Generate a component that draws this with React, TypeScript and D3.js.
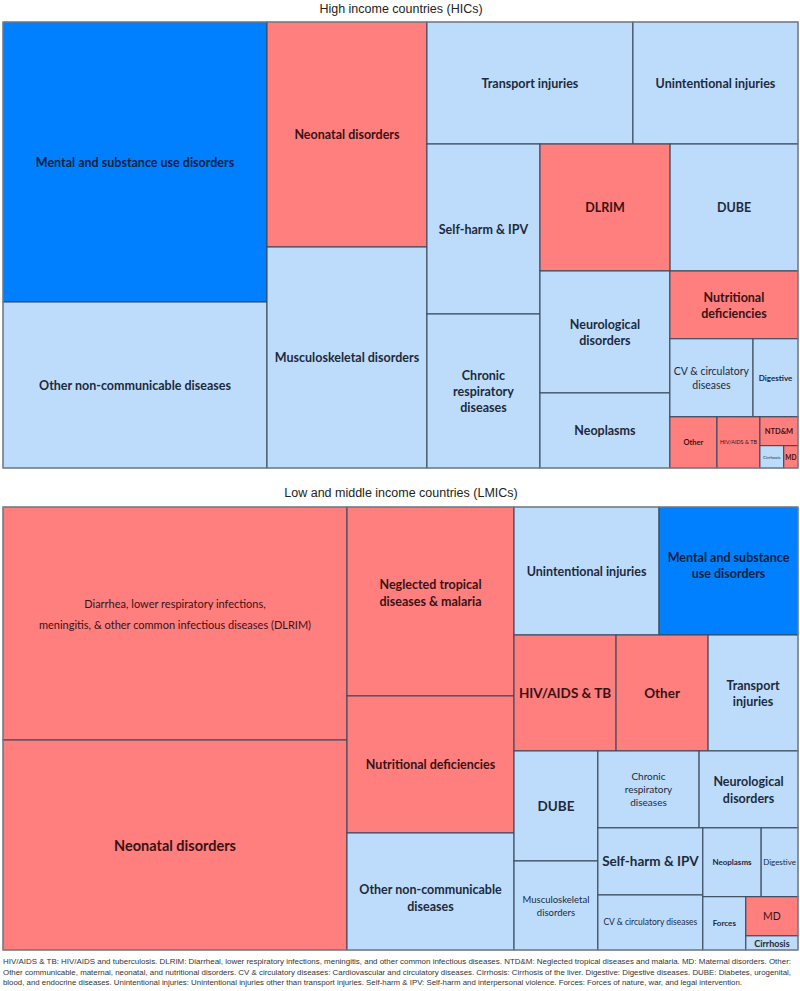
import React from "react";
import * as d3 from "d3";

// ---- data: share of burden per cause (read from tile areas, %) ----
const hicCauses = [
  "mental", "otherNcd", "neonatal", "musculo", "transport", "unintentional",
  "selfHarm", "chronicResp", "dlrim", "dube", "neuro", "neoplasms",
  "nutritional", "cv", "digestive", "other", "hiv", "ntdm", "cirrhosis", "md",
];
const hicValues = [
  20.85, 12.36, 10.15, 9.97, 7.09, 5.68,
  5.42, 4.91, 4.66, 4.58, 4.47, 2.75,
  2.45, 1.83, 0.99, 0.68, 0.62, 0.31, 0.15, 0.09,
];

const lmicCauses = [
  "dlrim", "neonatal", "ntdm", "nutritional", "otherNcd", "unintentional",
  "mental", "hiv", "other", "transport", "dube", "musculo",
  "chronicResp", "neuro", "selfHarm", "cv", "neoplasms", "digestive",
  "forces", "md", "cirrhosis",
];
const lmicValues = [
  22.76, 20.51, 8.96, 6.5, 5.55, 5.27,
  5.05, 3.36, 3.03, 2.96, 2.62, 2.12,
  2.21, 2.16, 2.0, 1.64, 1.14, 0.72,
  0.65, 0.58, 0.21,
];

// cause group: C = communicable/maternal/neonatal/nutritional, N = NCD & injuries, M = mental
const causeGroups: Record<string, string> = {
  mental: "M", otherNcd: "N", neonatal: "C", musculo: "N", transport: "N",
  unintentional: "N", selfHarm: "N", chronicResp: "N", dlrim: "C", dube: "N",
  neuro: "N", neoplasms: "N", nutritional: "C", cv: "N", digestive: "N",
  other: "C", hiv: "C", ntdm: "C", cirrhosis: "N", md: "C", forces: "N",
};

// how the tiles nest: "x" splits left-to-right, "y" splits top-to-bottom
const hicTiling: any = ["x",
  ["y", "mental", "otherNcd"],
  ["y", "neonatal", "musculo"],
  ["y",
    ["x", "transport", "unintentional"],
    ["x",
      ["y", "selfHarm", "chronicResp"],
      ["y",
        ["x", "dlrim", "dube"],
        ["x",
          ["y", "neuro", "neoplasms"],
          ["y", "nutritional",
            ["x", "cv", "digestive"],
            ["x", "other", "hiv", ["y", "ntdm", ["x", "cirrhosis", "md"]]]]]]]]];

const lmicTiling: any = ["x",
  ["y", "dlrim", "neonatal"],
  ["y", "ntdm", "nutritional", "otherNcd"],
  ["y",
    ["x", "unintentional", "mental"],
    ["x", "hiv", "other", "transport"],
    ["x",
      ["y", "dube", "musculo"],
      ["y",
        ["x", "chronicResp", "neuro"],
        ["x",
          ["y", "selfHarm", "cv"],
          ["y",
            ["x", "neoplasms", "digestive"],
            ["x", "forces", ["y", "md", "cirrhosis"]]]]]]]];

// ---- labels ----
type Lab = { lines: string[]; size: number; bold?: boolean; dy?: number; lh?: number };

const hicLabels: Record<string, Lab> = {
  mental: { lines: ["Mental and substance use disorders"], size: 12.5, bold: true },
  otherNcd: { lines: ["Other non-communicable diseases"], size: 12.5, bold: true },
  neonatal: { lines: ["Neonatal disorders"], size: 12.5, bold: true },
  musculo: { lines: ["Musculoskeletal disorders"], size: 12.5, bold: true },
  transport: { lines: ["Transport injuries"], size: 12.5, bold: true },
  unintentional: { lines: ["Unintentional injuries"], size: 12.5, bold: true },
  selfHarm: { lines: ["Self-harm & IPV"], size: 12.5, bold: true },
  chronicResp: { lines: ["Chronic", "respiratory", "diseases"], size: 12.5, bold: true },
  dlrim: { lines: ["DLRIM"], size: 12.5, bold: true },
  dube: { lines: ["DUBE"], size: 12.5, bold: true },
  neuro: { lines: ["Neurological", "disorders"], size: 12.5, bold: true },
  neoplasms: { lines: ["Neoplasms"], size: 12.5, bold: true },
  nutritional: { lines: ["Nutritional", "deficiencies"], size: 12.5, bold: true },
  cv: { lines: ["CV & circulatory", "diseases"], size: 10.5 },
  digestive: { lines: ["Digestive"], size: 8, bold: true },
  other: { lines: ["Other"], size: 7.5, bold: true },
  hiv: { lines: ["HIV/AIDS & TB"], size: 5.5 },
  ntdm: { lines: ["NTD&M"], size: 7.5, bold: true },
  cirrhosis: { lines: ["Cirrhosis"], size: 4.5 },
  md: { lines: ["MD"], size: 6.5, bold: true },
};

const lmicLabels: Record<string, Lab> = {
  dlrim: {
    lines: ["Diarrhea, lower respiratory infections,", "meningitis, & other common infectious diseases (DLRIM)"],
    size: 11, dy: -10, lh: 1.9,
  },
  neonatal: { lines: ["Neonatal disorders"], size: 14.5, bold: true },
  ntdm: { lines: ["Neglected tropical", "diseases & malaria"], size: 12.5, bold: true, dy: -9 },
  nutritional: { lines: ["Nutritional deficiencies"], size: 12.5, bold: true },
  otherNcd: { lines: ["Other non-communicable", "diseases"], size: 12.5, bold: true, dy: 6 },
  unintentional: { lines: ["Unintentional injuries"], size: 12.5, bold: true },
  mental: { lines: ["Mental and substance", "use disorders"], size: 12.5, bold: true, dy: -6 },
  hiv: { lines: ["HIV/AIDS & TB"], size: 13.5, bold: true },
  other: { lines: ["Other"], size: 13.5, bold: true },
  transport: { lines: ["Transport", "injuries"], size: 12.5, bold: true },
  dube: { lines: ["DUBE"], size: 13.5, bold: true },
  musculo: { lines: ["Musculoskeletal", "disorders"], size: 9.5 },
  chronicResp: { lines: ["Chronic", "respiratory", "diseases"], size: 10 },
  neuro: { lines: ["Neurological", "disorders"], size: 12.5, bold: true },
  selfHarm: { lines: ["Self-harm & IPV"], size: 13.5, bold: true },
  cv: { lines: ["CV & circulatory diseases"], size: 8.5 },
  neoplasms: { lines: ["Neoplasms"], size: 8, bold: true },
  digestive: { lines: ["Digestive"], size: 8 },
  forces: { lines: ["Forces"], size: 8, bold: true },
  md: { lines: ["MD"], size: 10.5 },
  cirrhosis: { lines: ["Cirrhosis"], size: 9, bold: true },
};

const footnote = [
  "HIV/AIDS & TB: HIV/AIDS and tuberculosis. DLRIM: Diarrheal, lower respiratory infections, meningitis, and other common infectious diseases. NTD&M: Neglected tropical diseases and malaria. MD: Maternal disorders. Other:",
  "Other communicable, maternal, neonatal, and nutritional disorders. CV & circulatory diseases: Cardiovascular and circulatory diseases. Cirrhosis: Cirrhosis of the liver. Digestive: Digestive diseases. DUBE: Diabetes, urogenital,",
  "blood, and endocrine diseases. Unintentional injuries: Unintentional injuries other than transport injuries. Self-harm & IPV: Self-harm and interpersonal violence. Forces: Forces of nature, war, and legal intervention.",
];

const fills: Record<string, string> = { C: "#ff7f7f", N: "#bddcfb", M: "#0080ff" };
const textColors: Record<string, string> = { C: "#3a1214", N: "#1d2a3c", M: "#0b1f3f" };
const FONT = "Lato, 'Open Sans', sans-serif";

function buildTree(spec: any): any {
  if (typeof spec === "string") return { id: spec };
  return { dir: spec[0], children: spec.slice(1).map(buildTree) };
}

function Treemap({ top, width, height, tiling, causes, values, labels }: any) {
  const root = d3.hierarchy(buildTree(tiling))
    .sum((d: any) => (d.id ? values[causes.indexOf(d.id)] : 0));

  d3.treemap()
    .size([width, height])
    .round(false)
    .tile((node: any, x0, y0, x1, y1) =>
      node.data.dir === "x"
        ? d3.treemapDice(node, x0, y0, x1, y1)
        : d3.treemapSlice(node, x0, y0, x1, y1))(root as any);

  const leaves = root.leaves() as any[];

  return (
    <g transform={`translate(3,${top})`}>
      {leaves.map((d) => {
        const g = causeGroups[d.data.id];
        return (
          <rect key={d.data.id} x={d.x0} y={d.y0} width={d.x1 - d.x0} height={d.y1 - d.y0}
            fill={fills[g]} stroke="#3c4a5c" strokeWidth={1.1} />
        );
      })}
      {leaves.map((d) => {
        const lab: Lab = labels[d.data.id];
        if (!lab) return null;
        const g = causeGroups[d.data.id];
        const lh = lab.size * (lab.lh || 1.3);
        const cx = (d.x0 + d.x1) / 2;
        const cy = (d.y0 + d.y1) / 2 + (lab.dy || 0);
        const y0 = cy - ((lab.lines.length - 1) * lh) / 2;
        return (
          <text key={"t" + d.data.id} textAnchor="middle" dominantBaseline="central"
            fontFamily={FONT} fontSize={lab.size} fontWeight={lab.bold ? 700 : 400}
            fill={textColors[g]}>
            {lab.lines.map((l, i) => (
              <tspan key={i} x={cx} y={y0 + i * lh}>{l}</tspan>
            ))}
          </text>
        );
      })}
      <rect x={0} y={0} width={width} height={height} fill="none" stroke="#8a8f96" strokeWidth={1} />
    </g>
  );
}

export default function App() {
  return (
    <>
      <style>{`body{margin:0}`}</style>
      <svg width={800} height={991} style={{ display: "block", background: "#fff" }}>
        <text x={401} y={13} textAnchor="middle" fontFamily="'Liberation Sans', Arial, sans-serif"
          fontSize={12.5} fill="#222">High income countries (HICs)</text>
        <Treemap top={22} width={795} height={446} tiling={hicTiling}
          causes={hicCauses} values={hicValues} labels={hicLabels} />

        <text x={401} y={497} textAnchor="middle" fontFamily="'Liberation Sans', Arial, sans-serif"
          fontSize={12.5} fill="#222">Low and middle income countries (LMICs)</text>
        <Treemap top={507} width={795} height={443} tiling={lmicTiling}
          causes={lmicCauses} values={lmicValues} labels={lmicLabels} />

        {footnote.map((t, i) => (
          <text key={i} x={3} y={964 + i * 10.5} fontFamily="'Liberation Sans', Arial, sans-serif"
            fontSize={7.6} fill="#333" textLength={i === 2 ? 739 : 788} lengthAdjust="spacingAndGlyphs">
            {t}
          </text>
        ))}
      </svg>
    </>
  );
}
